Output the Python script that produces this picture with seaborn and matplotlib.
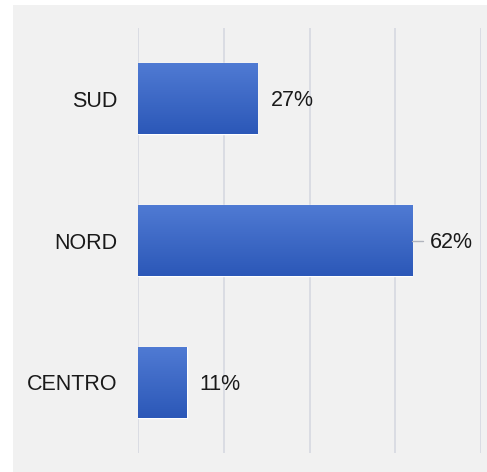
import numpy as np
import matplotlib
matplotlib.use("Agg")
import matplotlib.pyplot as plt
from matplotlib.colors import LinearSegmentedColormap
from matplotlib.patches import Rectangle
import seaborn as sns
import pandas as pd

# data
regions = ["SUD", "NORD", "CENTRO"]
shares = [27, 62, 11]
share_labels = ["27%", "62%", "11%"]

sns.set_style("white")
plt.rcParams["font.family"] = ["Liberation Sans", "DejaVu Sans"]

fig = plt.figure(figsize=(4.87, 4.72), dpi=100)
fig.patch.set_facecolor("white")
# grey panel behind the chart
fig.patches.append(Rectangle((13 / 487, 0), 1, 467 / 472, transform=fig.transFigure,
                             facecolor="#f1f1f1", edgecolor="none", zorder=-10))

ax = fig.add_axes([138 / 487, 19 / 472, 343 / 487, 425 / 472])
ax.set_facecolor("none")

df = pd.DataFrame({"region": regions, "share": shares})
sns.barplot(data=df, x="share", y="region", orient="h", color="#3a66c4",
            width=0.5, ax=ax, zorder=3)

xmax = 77.5
ax.set_xlim(0, xmax)
ax.set_ylim(2.5, -0.5)

# vertical gradient on every bar
grad = LinearSegmentedColormap.from_list("bar", ["#4f7ad3", "#2c58b8"])
for p in ax.patches:
    x0, y0 = p.get_x(), p.get_y()
    w, h = p.get_width(), p.get_height()
    im = ax.imshow(np.linspace(0, 1, 64).reshape(-1, 1), cmap=grad, aspect="auto",
                   extent=(x0, x0 + w, y0 + h, y0), zorder=4)
    im.set_clip_path(p)
ax.set_xlim(0, xmax)
ax.set_ylim(2.5, -0.5)

# gridlines
ax.set_xticks(np.linspace(0, xmax, 5))
ax.xaxis.grid(True, color="#dadce3", linewidth=1.4, zorder=0)
ax.set_axisbelow(True)
ax.tick_params(axis="x", labelbottom=False, length=0)
ax.tick_params(axis="y", length=0, pad=14.5, labelsize=15.5, labelcolor="#1a1a1a")
ax.set_xlabel("")
ax.set_ylabel("")
sns.despine(ax=ax, left=True, bottom=True)

# value labels, the longest bar gets a small stem
px = xmax / 343
dy = 2 / 141.7
top = max(shares)
for i, (v, lab) in enumerate(zip(shares, share_labels)):
    if v == top:
        ax.plot([v, v + 11 * px], [i, i], color="#b0b4bd", linewidth=1, zorder=5)
        ax.text(v + 17 * px, i + dy, lab, va="center", ha="left", fontsize=15.5,
                color="#1a1a1a", zorder=5)
    else:
        ax.text(v + 13 * px, i + dy, lab, va="center", ha="left", fontsize=15.5,
                color="#1a1a1a", zorder=5)

fig.savefig("out.png", dpi=100)
